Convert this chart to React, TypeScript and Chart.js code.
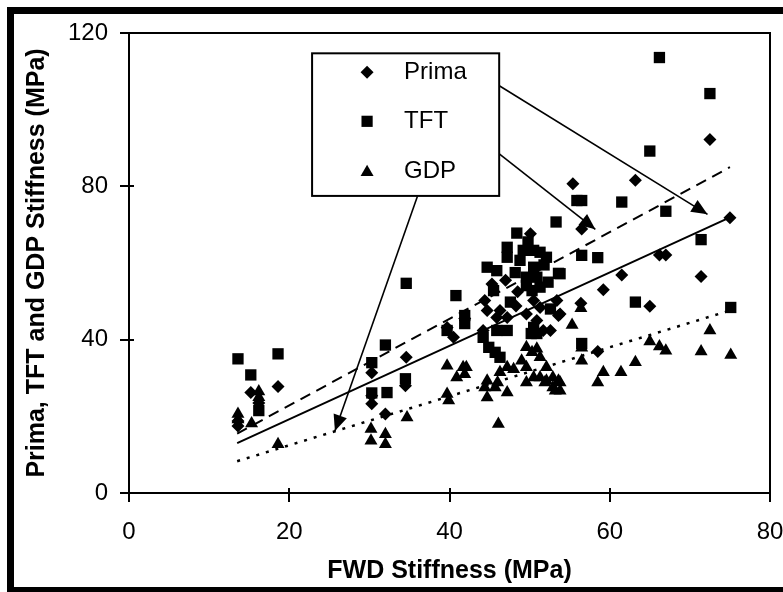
import React, { useEffect, useRef } from 'react';
import { Chart, registerables } from 'chart.js';

Chart.register(...registerables);

const FONT = '"Liberation Sans", Arial, Helvetica, sans-serif';

// ---- data (FWD stiffness, MPa  vs  measured stiffness, MPa) ----
const prima: [number, number][] = [
  [13.6, 17.5], [13.6, 18.8], [15.2, 26.2], [16.2, 23.5], [18.6, 27.8],
  [30.3, 31.4], [30.3, 25.4], [30.3, 23.3], [32.0, 20.6], [34.6, 35.4], [34.5, 28.0],
  [39.7, 43.2], [40.5, 40.6], [41.9, 45.5],
  [44.4, 50.2], [44.7, 47.6], [46.3, 47.6], [45.9, 45.8], [47.2, 45.8], [44.2, 42.4],
  [45.3, 54.5], [48.3, 48.8], [48.5, 52.5], [47.0, 55.5],
  [50.1, 67.6], [50.5, 50.2], [51.3, 48.4], [53.4, 50.2], [53.6, 46.3], [49.6, 46.7],
  [50.9, 45.0], [51.7, 42.4], [52.6, 42.4],
  [55.4, 80.7], [56.5, 68.9], [53.8, 46.7], [56.4, 49.5], [58.5, 36.9], [59.2, 53.0],
  [61.5, 56.9], [63.2, 81.6], [65.0, 48.7], [66.2, 62.1], [67.0, 62.1], [71.4, 56.5],
  [72.5, 92.2], [75.0, 71.8],
];

const tft: [number, number][] = [
  [13.6, 35.0], [18.6, 36.3], [15.2, 30.8], [16.2, 21.5],
  [30.3, 34.0], [30.3, 26.1], [32.0, 38.6], [32.2, 26.2], [34.6, 54.7], [34.5, 29.8],
  [40.8, 51.5], [39.7, 42.4], [41.9, 46.3], [41.9, 44.2],
  [44.7, 58.9], [45.9, 58.0], [45.5, 52.8], [47.6, 49.8], [45.9, 42.4], [47.2, 42.4],
  [44.2, 40.6], [44.9, 38.0], [45.7, 36.7], [46.3, 35.4],
  [48.4, 67.8], [47.2, 64.1], [47.2, 61.5], [49.2, 63.3], [50.5, 63.3], [51.3, 62.8],
  [52.1, 61.5], [48.8, 60.7], [53.6, 57.3], [49.8, 65.5], [51.8, 59.5], [48.2, 57.5],
  [50.5, 58.9], [50.9, 56.3], [49.6, 56.3], [51.3, 53.7], [50.3, 52.8], [49.6, 54.1],
  [52.6, 48.0], [50.5, 43.2], [50.2, 41.6], [50.9, 41.6], [52.3, 55.0],
  [53.3, 70.7], [55.9, 76.3], [56.5, 76.3], [56.5, 62.0], [58.5, 61.4], [53.8, 57.2],
  [56.5, 39.0], [61.5, 75.9], [63.2, 49.8], [65.0, 89.2], [66.2, 113.6], [67.0, 73.5],
  [71.4, 66.1], [72.5, 104.2], [75.1, 48.4],
];

const gdp: [number, number][] = [
  [13.6, 20.6], [13.6, 19.2], [15.3, 18.1], [16.2, 25.0], [16.2, 26.5], [18.6, 12.7],
  [30.2, 16.7], [30.2, 13.6], [32.0, 15.3], [32.0, 12.7], [34.7, 19.7],
  [39.7, 33.2], [41.7, 32.8], [42.1, 32.8], [40.9, 30.1], [41.9, 31.0], [39.7, 25.8], [39.9, 24.1],
  [44.4, 27.5], [44.7, 24.9], [45.7, 27.5], [47.2, 26.2], [46.0, 28.8], [46.1, 18.0],
  [47.2, 32.8], [48.0, 32.3], [46.3, 31.5], [44.7, 29.3],
  [49.6, 38.0], [50.3, 36.7], [50.9, 37.6], [51.3, 35.4], [52.1, 32.8], [49.0, 34.5],
  [49.6, 32.8], [50.5, 30.1], [51.3, 30.1], [52.1, 29.3], [52.9, 30.1], [53.6, 29.3],
  [53.8, 26.7], [52.9, 27.5],
  [49.6, 28.8], [51.9, 28.8], [53.8, 28.8], [53.2, 26.7],
  [55.3, 43.8], [56.4, 48.2], [56.5, 34.5], [56.5, 37.9], [58.5, 28.8], [59.2, 31.5],
  [61.4, 31.5], [63.2, 34.1], [65.0, 39.5], [66.2, 38.2], [67.0, 37.1], [71.4, 36.9],
  [72.5, 42.4], [75.1, 36.0],
];

// linear trend lines (end points)
const trendTFT: [number, number][] = [[13.5, 15.5], [75, 85.0]];
const trendPrima: [number, number][] = [[13.5, 13.0], [75, 71.9]];
const trendGDP: [number, number][] = [[13.5, 8.3], [75, 47.6]];

// legend call-out arrows (start, tip)
const arrowPrima: [number, number][] = [[44.7, 108.2], [72.2, 72.7]];
const arrowTFT: [number, number][] = [[42.8, 94.1], [58.2, 68.8]];
const arrowGDP: [number, number][] = [[36.0, 77.4], [25.7, 16.2]];

const xTicks = [0, 20, 40, 60, 80];
const yTicks = [0, 40, 80, 120];
const legendLabels = ['Prima', 'TFT', 'GDP'];
const xTitle = 'FWD Stiffness (MPa)';
const yTitle = 'Prima, TFT and GDP Stiffness (MPa)';

// legend box corners in data units
const legendBox = { x0: 22.85, x1: 46.2, y0: 114.7, y1: 77.5 };

const toXY = (arr: [number, number][]) => arr.map(([x, y]) => ({ x, y }));

function drawMarker(ctx: CanvasRenderingContext2D, kind: string, x: number, y: number) {
  ctx.beginPath();
  if (kind === 'diamond') {
    const r = 6.5;
    ctx.moveTo(x, y - r); ctx.lineTo(x + r, y); ctx.lineTo(x, y + r); ctx.lineTo(x - r, y);
  } else if (kind === 'square') {
    const h = 5.6;
    ctx.rect(x - h, y - h, 2 * h, 2 * h);
  } else {
    const r = 7.5;
    ctx.moveTo(x, y - r);
    ctx.lineTo(x + r * Math.sin(2 * Math.PI / 3), y - r * Math.cos(2 * Math.PI / 3));
    ctx.lineTo(x + r * Math.sin(4 * Math.PI / 3), y - r * Math.cos(4 * Math.PI / 3));
  }
  ctx.closePath();
  ctx.fill();
}

const decorPlugin = {
  id: 'decor',
  beforeDraw(chart: any) {
    const { ctx, width, height } = chart;
    ctx.save();
    ctx.fillStyle = '#fff';
    ctx.fillRect(0, 0, width, height);
    ctx.restore();
  },
  afterDatasetsDraw(chart: any) {
    const { ctx, chartArea: a, scales } = chart;
    const xs = scales.x;
    const ys = scales.y;
    ctx.save();
    ctx.strokeStyle = '#000';
    ctx.fillStyle = '#000';
    ctx.lineWidth = 2;
    ctx.strokeRect(a.left, a.top, a.right - a.left, a.bottom - a.top);
    // crossing tick marks
    ctx.beginPath();
    xTicks.forEach((v) => {
      const px = Math.round(xs.getPixelForValue(v));
      ctx.moveTo(px, a.bottom - 5);
      ctx.lineTo(px, a.bottom + 9);
    });
    yTicks.forEach((v) => {
      const py = Math.round(ys.getPixelForValue(v));
      ctx.moveTo(a.left - 9, py);
      ctx.lineTo(a.left + 5, py);
    });
    ctx.stroke();

    // arrow heads
    [arrowPrima, arrowTFT, arrowGDP].forEach((arr) => {
      const x0 = xs.getPixelForValue(arr[0][0]);
      const y0 = ys.getPixelForValue(arr[0][1]);
      const x1 = xs.getPixelForValue(arr[1][0]);
      const y1 = ys.getPixelForValue(arr[1][1]);
      const len = Math.hypot(x1 - x0, y1 - y0);
      const dx = (x1 - x0) / len;
      const dy = (y1 - y0) / len;
      const L = 16;
      const W = 7;
      const bx = x1 - dx * L;
      const by = y1 - dy * L;
      ctx.beginPath();
      ctx.moveTo(x1, y1);
      ctx.lineTo(bx - dy * W, by + dx * W);
      ctx.lineTo(bx + dy * W, by - dx * W);
      ctx.closePath();
      ctx.fill();
    });

    // legend box
    const lx0 = xs.getPixelForValue(legendBox.x0);
    const lx1 = xs.getPixelForValue(legendBox.x1);
    const ly0 = ys.getPixelForValue(legendBox.y0);
    const ly1 = ys.getPixelForValue(legendBox.y1);
    ctx.fillStyle = '#fff';
    ctx.fillRect(lx0, ly0, lx1 - lx0, ly1 - ly0);
    ctx.lineWidth = 2;
    ctx.strokeRect(lx0, ly0, lx1 - lx0, ly1 - ly0);
    const kinds = ['diamond', 'square', 'triangle'];
    const rowY = [19, 68, 118];
    ctx.fillStyle = '#000';
    ctx.font = `24px ${FONT}`;
    ctx.textBaseline = 'middle';
    ctx.textAlign = 'left';
    legendLabels.forEach((lab, i) => {
      const yy = ly0 + rowY[i];
      drawMarker(ctx, kinds[i], lx0 + 55, yy + (i === 2 ? 1 : 0));
      ctx.fillText(lab, lx0 + 92, yy);
    });
    ctx.restore();
  },
  afterDraw(chart: any) {
    const { ctx } = chart;
    ctx.save();
    ctx.fillStyle = '#000';
    ctx.fillRect(7, 7, 776, 7);
    ctx.fillRect(7, 7, 7, 585);
    ctx.fillRect(7, 587, 776, 5);
    ctx.restore();
  },
};

export default function App() {
  const ref = useRef<HTMLCanvasElement | null>(null);

  useEffect(() => {
    if (!ref.current) return;
    const lineDs = (pts: [number, number][], dash: number[], width = 2) => ({
      type: 'scatter' as const,
      data: toXY(pts),
      showLine: true,
      borderColor: '#000',
      backgroundColor: '#000',
      borderWidth: width,
      borderDash: dash,
      pointRadius: 0,
      pointHoverRadius: 0,
    });
    const chart = new Chart(ref.current, {
      type: 'scatter',
      data: {
        datasets: [
          {
            label: 'Prima',
            data: toXY(prima),
            pointStyle: 'rectRot',
            pointRadius: 6.5,
            backgroundColor: '#000',
            borderColor: '#000',
            borderWidth: 0,
          },
          {
            label: 'TFT',
            data: toXY(tft),
            pointStyle: 'rect',
            pointRadius: 8,
            backgroundColor: '#000',
            borderColor: '#000',
            borderWidth: 0,
          },
          {
            label: 'GDP',
            data: toXY(gdp),
            pointStyle: 'triangle',
            pointRadius: 7.5,
            backgroundColor: '#000',
            borderColor: '#000',
            borderWidth: 0,
          },
          lineDs(trendTFT, [11, 7]),
          lineDs(trendPrima, []),
          lineDs(trendGDP, [3, 7], 2.5),
          lineDs(arrowPrima, [], 1.6),
          lineDs(arrowTFT, [], 1.6),
          lineDs(arrowGDP, [], 1.6),
        ] as any,
      },
      options: {
        responsive: false,
        animation: false,
        devicePixelRatio: 1,
        layout: { padding: { left: 0, right: 13, top: 33, bottom: 0 } },
        plugins: {
          legend: { display: false },
          tooltip: { enabled: false },
        },
        scales: {
          x: {
            type: 'linear',
            min: 0,
            max: 80,
            afterFit: (s: any) => { s.height = 99; s.paddingLeft = 0; s.paddingRight = 0; },
            afterBuildTicks: (s: any) => { s.ticks = xTicks.map((v) => ({ value: v })); },
            ticks: {
              color: '#000',
              font: { family: FONT, size: 24 },
              padding: 25,
              maxRotation: 0,
            },
            grid: { display: false, drawTicks: false },
            border: { display: false },
            title: {
              display: true,
              text: xTitle,
              color: '#000',
              font: { family: FONT, size: 25, weight: 'bold' },
              padding: { top: 0, bottom: 6 },
            },
          },
          y: {
            type: 'linear',
            min: 0,
            max: 120,
            afterFit: (s: any) => { s.width = 129; s.paddingTop = 0; s.paddingBottom = 0; },
            afterBuildTicks: (s: any) => { s.ticks = yTicks.map((v) => ({ value: v })); },
            ticks: {
              color: '#000',
              font: { family: FONT, size: 24 },
              padding: 21,
            },
            grid: { display: false, drawTicks: false },
            border: { display: false },
            title: {
              display: true,
              text: yTitle,
              color: '#000',
              font: { family: FONT, size: 25, weight: 'bold' },
              padding: { top: 22, bottom: 0 },
            },
          },
        },
      } as any,
      plugins: [decorPlugin],
    });
    return () => chart.destroy();
  }, []);

  return (
    <div style={{ position: 'absolute', left: 0, top: 0, width: 783, height: 592, background: '#fff' }}>
      <canvas ref={ref} width={783} height={592} style={{ width: 783, height: 592, display: 'block' }} />
    </div>
  );
}
